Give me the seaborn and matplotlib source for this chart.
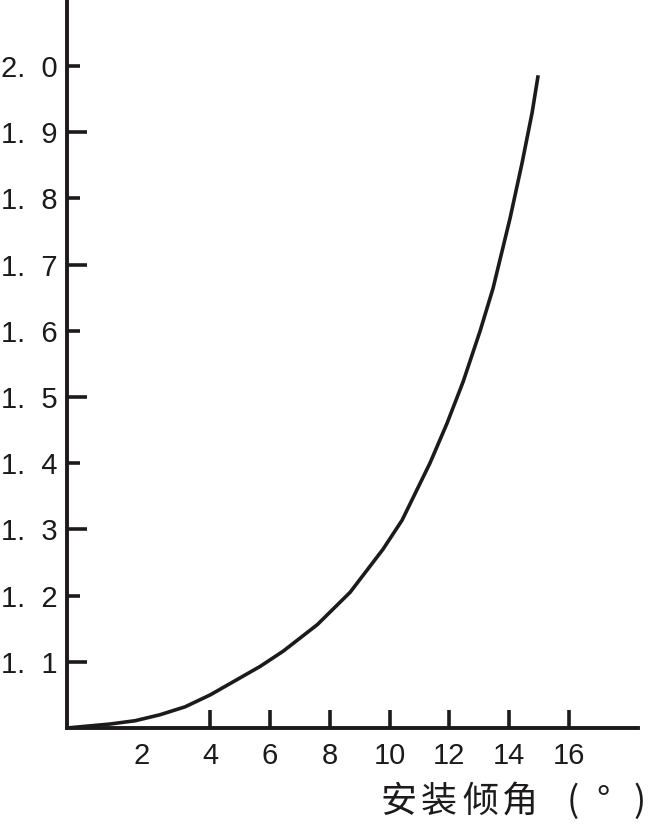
import matplotlib
matplotlib.use("Agg")
import matplotlib.pyplot as plt
import seaborn as sns
import pandas as pd

# Curve (installation tilt angle vs. ratio)
angle = [-0.79, 0.65, 1.49, 2.32, 3.16, 4.00, 5.67, 6.44, 7.58, 8.68, 9.78, 10.42,
         11.35, 11.92, 12.46, 13.03, 13.46, 14.03, 14.43, 14.77, 14.97]
ratio = [1.000, 1.006, 1.011, 1.020, 1.032, 1.050, 1.093, 1.116, 1.156, 1.205, 1.270, 1.314,
         1.400, 1.460, 1.523, 1.600, 1.664, 1.770, 1.853, 1.930, 1.986]

x_tick_pos = [1.72, 4, 6, 8, 10, 12, 14, 16]
x_tick_labels = ["2", "4", "6", "8", "10", "12", "14", "16"]
y_tick_pos = [1.1, 1.2, 1.3, 1.4, 1.5, 1.6, 1.7, 1.8, 1.9, 2.0]
y_tick_labels = ["1.  1", "1.  2", "1.  3", "1.  4", "1.  5", "1.  6", "1.  7", "1.  8", "1.  9", "2.  0"]
x_label_chars = ["安", "装", "倾", "角", "(", "°", ")"]

sns.set_style("white")
plt.rcParams["font.family"] = ["Liberation Sans", "DejaVu Sans"]

ink = "#1c1a1a"
W, H = 649, 824
fig = plt.figure(figsize=(W / 100, H / 100), dpi=100)
ax = fig.add_axes([67 / W, (H - 728) / H, (638 - 67) / W, 728 / H])

df = pd.DataFrame({"angle": angle, "ratio": ratio})
sns.lineplot(data=df, x="angle", y="ratio", ax=ax, color=ink, linewidth=2.6,
             sort=False, estimator=None)
for ln in ax.lines:
    ln.set_solid_joinstyle("round")
    ln.set_solid_capstyle("butt")

ax.set_xlim(-0.79, 18.31)
ax.set_ylim(1.0, 2.0997)

for s in ["top", "right"]:
    ax.spines[s].set_visible(False)
for s in ["left", "bottom"]:
    ax.spines[s].set_linewidth(2.8)
    ax.spines[s].set_color(ink)
    ax.spines[s].set_capstyle("projecting")

ax.set_xticks(x_tick_pos)
ax.set_xticklabels(x_tick_labels)
ax.set_yticks(y_tick_pos)
ax.set_yticklabels(y_tick_labels)
ax.tick_params(axis="both", direction="in", colors=ink, width=2.6,
               labelsize=21, labelcolor=ink, bottom=True, left=True)
ax.tick_params(axis="x", length=13, pad=10)
ax.tick_params(axis="y", length=14, pad=7)

# first x tick ("2") has no tick mark
ax.xaxis.get_major_ticks()[0].tick1line.set_visible(False)
# alternating y tick lengths
for i, t in enumerate(ax.yaxis.get_major_ticks()):
    t.tick1line.set_markersize(14.4 if i % 2 == 0 else 9.4)

ax.set_xlabel("")
ax.set_ylabel("")

# axis title, spaced out like the reference
centers = [399, 439, 480, 520, 573, 603, 640]
for ch, cx in zip(x_label_chars, centers):
    fig.text(cx / W, 1 - 802 / H, ch, ha="center", va="center",
             fontsize=26, color=ink, family=["Noto Sans CJK SC", "DejaVu Sans"])

fig.savefig("out.png", dpi=100, facecolor="white")
